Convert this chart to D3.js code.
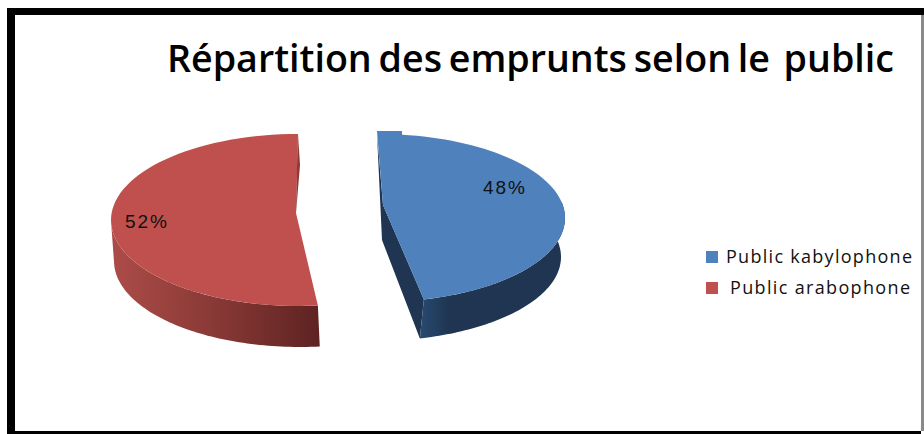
<!DOCTYPE html>
<html><head><meta charset="utf-8">
<script src="https://cdn.jsdelivr.net/npm/d3@7"></script>
<style>html,body{margin:0;padding:0;background:#fff}svg{display:block}</style>
</head><body><svg id="c" width="924" height="434"></svg>
<script>
const categories = ["Public kabylophone", "Public arabophone"];
const values = [48, 52];
const colors = ["#4f81bd", "#c0504d"];
const pctLabels = values.map(v => v + "%");
const titleText = "Répartition des emprunts selon le  public";

const svg = d3.select("#c");
const defs = svg.append("defs");
const addGrad = (id, stops) => {
  const g = defs.append("linearGradient").attr("id", id);
  stops.forEach(s => g.append("stop").attr("offset", s[0]).attr("stop-color", s[1]));
};
addGrad("sideRed", [[0,"#ad4c48"],[0.45,"#8c3b38"],[1,"#5e2321"]]);
addGrad("sideBlue", [[0,"#284a70"],[0.2,"#1f3552"],[1,"#1f3552"]]);

// Frame
[[7,8,917,7,"#000"],[7,8,8,426,"#000"],[7,431,914,3,"#000"],[921,15,3,416,"#8a8a8a"]].forEach(b =>
  svg.append("rect").attr("x",b[0]).attr("y",b[1]).attr("width",b[2]).attr("height",b[3]).attr("fill",b[4]));

// Title
svg.append("text").attr("x",167).attr("y",72)
  .attr("font-family","'Open Sans'").attr("font-weight",600).attr("font-size",38)
  .attr("word-spacing",-3)
  .attr("textLength",727).attr("lengthAdjust","spacingAndGlyphs")
  .style("white-space","pre").attr("fill","#000").text(titleText);

// Slice angles come from d3.pie; each slice has its own projected ellipse.
const arcs = d3.pie().value(d => d).sort(null)(values);
const sweep = arcs.map(a => a.endAngle - a.startAngle);
const deg = Math.PI / 180;
// value position within slice -> angle on the drawn rim
const blueRim = d3.scaleLinear().domain([0, sweep[0]]).range([7.4*deg, 165.8*deg]);
const redRim  = d3.scaleLinear().domain([0, sweep[1]]).range([0, 186.1*deg]);
const ellipse = (cx, cy, rx, ry, dir) => a => [cx + dir*rx*Math.sin(a), cy - ry*Math.cos(a)];
const blueTop = ellipse(378,218,187,84, 1), blueBot = ellipse(374,257,187,84, 1);
const redTop  = ellipse(298,220,187,86,-1), redBot  = ellipse(300,261,186,86,-1);
const line = d3.line();
const sample = (scale, sw, from, to, n=70) =>
  d3.range(n+1).map(i => scale(from*sw + (to-from)*sw*i/n));
const rim = (e, scale, sw, from, to) => sample(scale, sw, from, to).map(e);

const g = svg.append("g");

// Red slice
{
  const sw = sweep[1];
  const hinge = [296,213];
  const side = rim(redTop, redRim, sw, 0.5, 1);
  const bottom = rim(redBot, redRim, sw, 0.5, 1).reverse();
  g.append("path").attr("d", line(side.concat(bottom)) + "Z").attr("fill","url(#sideRed)");
  g.append("path").attr("d", line(rim(redTop, redRim, sw, 0, 1).concat([hinge])) + "Z").attr("fill",colors[1]);
  g.append("path").attr("d", line([redTop(redRim(0)), [300,165], hinge, [297,165]]) + "Z").attr("fill","#8c3b38");
}

// Blue slice
{
  const sw = sweep[0], tip = blueTop(blueRim(sw));
  const hinge = [383,205];
  const side = rim(blueTop, blueRim, sw, 0.45, 1);
  const bottom = rim(blueBot, blueRim, sw, 0.45, 1).reverse();
  const low = blueBot(blueRim(sw));
  g.append("path").attr("d", line([[377,134], hinge, tip, low, [382,240]]) + "Z").attr("fill","#1f3552");
  g.append("path").attr("d", line(side.concat(bottom)) + "Z").attr("fill","url(#sideBlue)");
  g.append("path").attr("d", line([[377,131],[402,131]].concat(rim(blueTop, blueRim, sw, 0, 1), [hinge])) + "Z").attr("fill",colors[0]);
}

// Percent labels
const labelPos = [[483,194],[125,228]];
pctLabels.forEach((t,i) => svg.append("text").attr("x",labelPos[i][0]).attr("y",labelPos[i][1])
  .attr("font-family","'Liberation Sans'").attr("font-size",19)
  .attr("textLength",42).attr("lengthAdjust","spacing").attr("fill","#111").text(t));

// Legend
const legX = [726,730], legY = [257,288], legLen = [186,180];
categories.forEach((c,i) => {
  svg.append("rect").attr("x",706).attr("y",legY[i]-6).attr("width",12).attr("height",12).attr("fill",colors[i]);
  svg.append("text").attr("x",legX[i]).attr("y",legY[i]+6)
    .attr("font-family","'Open Sans'").attr("font-size",18)
    .attr("textLength",legLen[i]).attr("lengthAdjust","spacing").attr("fill","#111").text(c);
});
</script></body></html>
